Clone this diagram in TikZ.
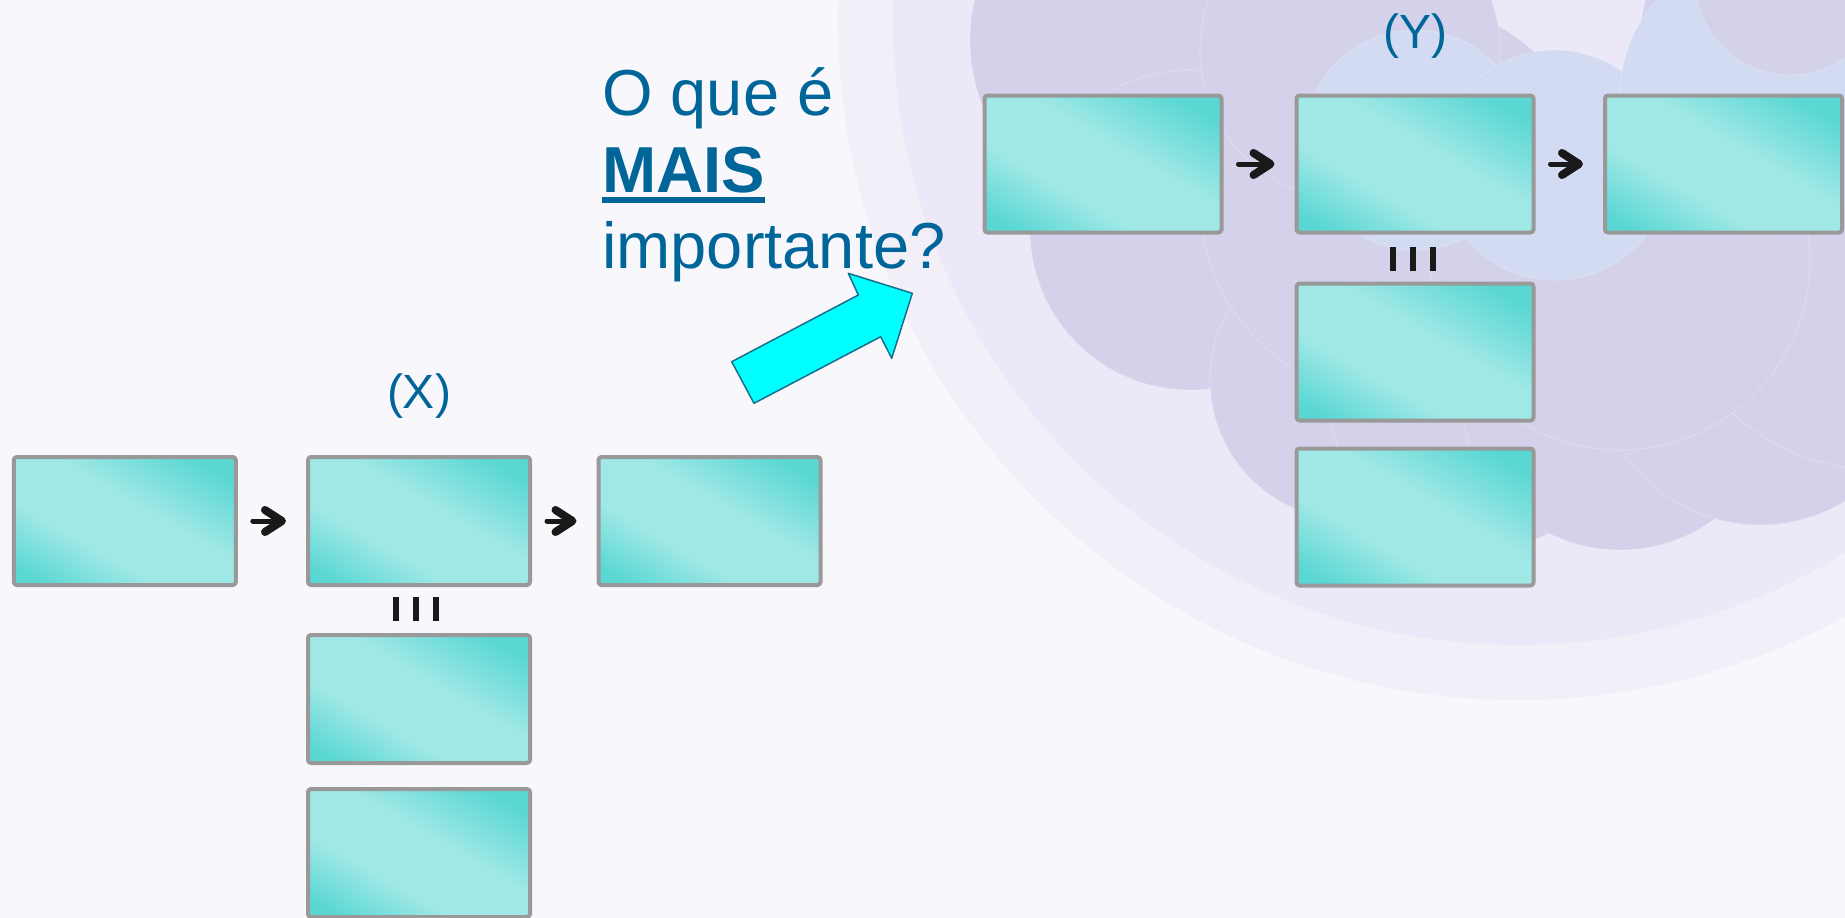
\documentclass[tikz,border=0pt]{standalone}
\usepackage{fontspec}
\setmainfont{Liberation Sans}
\usetikzlibrary{arrows.meta}
\definecolor{azul}{RGB}{0,102,153}
\definecolor{fundo}{RGB}{247,247,252}
\definecolor{anelA}{RGB}{242,239,249}
\definecolor{anelB}{RGB}{237,232,247}
\definecolor{nuvem}{RGB}{212,210,234}
\definecolor{nuvemazul}{RGB}{210,219,241}
\definecolor{cianoesc}{RGB}{88,215,211}
\definecolor{cianocla}{RGB}{160,232,230}
\definecolor{ciano}{RGB}{0,255,255}
\definecolor{bordaseta}{RGB}{27,110,140}
\pgfdeclarehorizontalshading{caixa}{100bp}{color(0bp)=(cianoesc); color(20bp)=(cianoesc); color(38bp)=(cianocla); color(56bp)=(cianocla); color(78bp)=(cianoesc); color(100bp)=(cianoesc)}
\newcommand\sublinhado[1]{\setbox0\hbox{#1}\rlap{\rule[-11pt]{\wd0}{6pt}}\box0}
\newcommand\barras{\rule{6pt}{24pt}\hspace{14pt}\rule{6pt}{24pt}\hspace{14pt}\rule{6pt}{24pt}}
\tikzset{
  quadro/.style={draw=gray!80, line width=4pt, rounded corners=3pt, shading=caixa, shading angle=60, minimum width=222pt, minimum height=128pt, inner sep=0pt},
  quadrog/.style={quadro, minimum width=237pt, minimum height=137pt},
  seta/.style={->, line width=5pt, line cap=round, black!90, shorten <=15pt, shorten >=20pt},
  rotulo/.style={text=azul, inner sep=0pt, font=\fontsize{48}{56}\selectfont},
  pergunta/.style={text=azul, inner sep=0pt, anchor=base west, font=\fontsize{65}{77}\selectfont},
  iguais/.style={text=black!90, inner sep=0pt},
  bolha/.style={fill=nuvem, draw=white, draw opacity=.18, line width=1.2pt}
}
\begin{document}
\begin{tikzpicture}[x=1pt, y=-1pt, line join=round, >={Straight Barb[round,length=17pt,width=22pt,line width=3pt 1]}]
\useasboundingbox (0,0) rectangle (1845,918);
\clip (0,0) rectangle (1845,918);
\fill[fundo] (0,0) rectangle (1845,918);
\fill[anelA] (1518,20) circle (680);
\fill[anelB] (1518,20) circle (625);
\foreach \cx/\cy/\r in {1150/40/180, 1190/230/160, 1350/380/140, 1480/400/150, 1620/390/160,
  1760/360/165, 1880/250/220, 1400/200/200, 1620/260/190, 1350/50/150, 1790/40/150}
  \draw[bolha] (\cx,\cy) circle (\r);
\draw[bolha, fill=nuvemazul] (1415,140) circle (110);
\draw[bolha, fill=nuvemazul] (1555,165) circle (115);
\draw[bolha, fill=nuvemazul] (1760,95) circle (140);
\draw[bolha] (1790,-20) circle (95);

\node[quadro] (a1) at (124.8,521) {};
\node[quadro] (a2) at (419,521) {};
\node[quadro] (a3) at (709.5,521) {};
\node[quadro] (a4) at (419,699) {};
\node[quadro] (a5) at (419,853) {};
\draw[seta] (a1) -- (a2);
\draw[seta] (a2) -- (a3);
\node[iguais] (ea) at (416,609) {\barras};
\node[rotulo, anchor=base] (tx) at (419,408) {(X)};

\node[quadrog] (b1) at (1103,164) {};
\node[quadrog] (b2) at (1415,164) {};
\node[quadrog] (b3) at (1723.5,164) {};
\node[quadrog] (b4) at (1415,352) {};
\node[quadrog] (b5) at (1415,517) {};
\draw[seta] (b1) -- (b2);
\draw[seta] (b2) -- (b3);
\node[iguais] (eb) at (1413,259) {\barras};
\node[rotulo, anchor=base] (ty) at (1415,48) {(Y)};

\node[pergunta] (q1) at (602,115) {O que é};
\node[pergunta] (q2) at (602,192) {\bfseries\sublinhado{MAIS}};
\node[pergunta] (q3) at (602,268) {importante?};
\draw[fill=ciano, draw=bordaseta, line width=1.5pt] (731.7,361.7) -- (858.3,295) -- (848.3,273.3)
  -- (912.3,293.3) -- (891.7,358.3) -- (880.7,336.7) -- (754,403.3) -- cycle;
\end{tikzpicture}
\end{document}
